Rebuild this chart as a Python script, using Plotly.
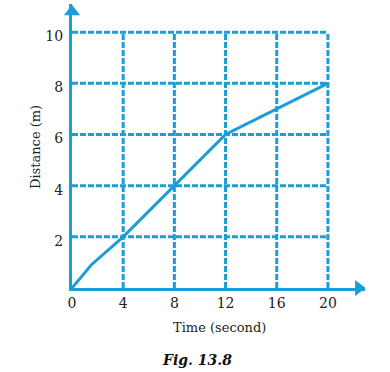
import plotly.graph_objects as go

time_s = [0, 1.5, 4, 8, 12, 16, 20]
distance_m = [0, 0.9, 2, 4, 6, 7, 8]
x_ticks = [0, 4, 8, 12, 16, 20]
y_ticks = [2, 4, 6, 8, 10]

BLUE = "#1a9ed8"
FONT = "DejaVu Serif"

fig = go.Figure()

shapes = []
for xv in x_ticks[1:]:
    shapes.append(dict(type="line", xref="x", yref="y", x0=xv, x1=xv, y0=0, y1=max(y_ticks),
                       line=dict(color=BLUE, width=3, dash="6px,2px"), layer="below"))
for yv in y_ticks:
    shapes.append(dict(type="line", xref="x", yref="y", x0=0, x1=max(x_ticks), y0=yv, y1=yv,
                       line=dict(color=BLUE, width=3, dash="6px,2px"), layer="below"))

fig.add_trace(go.Scatter(x=time_s, y=distance_m, mode="lines",
                         line=dict(color=BLUE, width=3), showlegend=False, hoverinfo="skip"))

# axis arrowheads
fig.add_trace(go.Scatter(x=[22.4], y=[0], mode="markers", cliponaxis=False,
                         marker=dict(symbol="triangle-right", size=14, color=BLUE),
                         showlegend=False, hoverinfo="skip"))
fig.add_trace(go.Scatter(x=[0], y=[10.8], mode="markers", cliponaxis=False,
                         marker=dict(symbol="triangle-up", size=14, color=BLUE),
                         showlegend=False, hoverinfo="skip"))

fig.update_layout(
    width=390, height=372,
    margin=dict(l=72, r=25, t=4, b=84),
    paper_bgcolor="white", plot_bgcolor="white",
    shapes=shapes,
    font=dict(family=FONT, size=14, color="#222222"),
    xaxis=dict(range=[0, 22.9], tickvals=x_ticks, ticktext=[str(v) for v in x_ticks],
               showgrid=False, zeroline=False, showline=True, linecolor=BLUE, linewidth=3,
               ticks="", ticklabelstandoff=0, fixedrange=True),
    yaxis=dict(range=[0, 11.1], tickvals=y_ticks, ticktext=[str(v) for v in y_ticks],
               showgrid=False, zeroline=False, showline=True, linecolor=BLUE, linewidth=3,
               ticks="", ticklabelstandoff=3, ticklabelshift=4, fixedrange=True),
    annotations=[
        dict(text="Time (second)", xref="paper", yref="paper", x=(219 - 72) / 293, y=-(327 - 288) / 284,
             showarrow=False, xanchor="center", yanchor="middle", font=dict(size=13)),
        dict(text="Distance (m)", xref="paper", yref="paper", x=-(72 - 35) / 293, y=(288 - 147) / 284,
             showarrow=False, xanchor="center", yanchor="middle", textangle=-90, font=dict(size=13)),
        dict(text="<b><i>Fig. 13.8</i></b>", xref="paper", yref="paper", x=(197 - 72) / 293,
             y=-(360 - 288) / 284, showarrow=False, xanchor="center", yanchor="middle",
             font=dict(size=14, color="#111111")),
    ],
)

fig.write_html("out.html", config={"displayModeBar": False},
               post_script="document.body.style.margin='0';document.body.style.padding='0';")
